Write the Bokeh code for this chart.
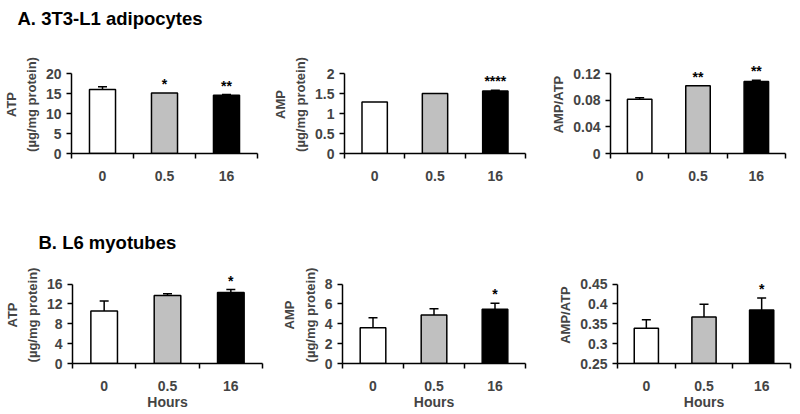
from bokeh.plotting import figure
from bokeh.models import (FixedTicker, Whisker, TeeHead, ColumnDataSource, Range1d,
                          LabelSet, Title)
from bokeh.layouts import column, row
from bokeh.core.properties import value
from bokeh.embed import file_html
from bokeh.resources import INLINE

FONT = "Liberation Sans"

# ---- data ----
hours = ["0", "0.5", "16"]
fills = ["white", "#c0c0c0", "black"]

a_atp = [16.0, 15.15, 14.55]
a_atp_err = [0.7, 0.0, 0.2]
a_atp_sig = ["", "*", "**"]
a_atp_ticks = [0, 5, 10, 15, 20]
a_atp_labels = ["0", "5", "10", "15", "20"]

a_amp = [1.29, 1.50, 1.56]
a_amp_err = [0.0, 0.0, 0.02]
a_amp_sig = ["", "", "****"]
a_amp_ticks = [0, 0.5, 1, 1.5, 2]
a_amp_labels = ["0", "0.5", "1", "1.5", "2"]

a_ratio = [0.0815, 0.1015, 0.108]
a_ratio_err = [0.002, 0.0, 0.002]
a_ratio_sig = ["", "**", "**"]
a_ratio_ticks = [0, 0.04, 0.08, 0.12]
a_ratio_labels = ["0", "0.04", "0.08", "0.12"]

b_atp = [10.6, 13.7, 14.3]
b_atp_err = [2.0, 0.35, 0.6]
b_atp_sig = ["", "", "*"]
b_atp_ticks = [0, 4, 8, 12, 16]
b_atp_labels = ["0", "4", "8", "12", "16"]

b_amp = [3.6, 4.9, 5.46]
b_amp_err = [1.0, 0.63, 0.62]
b_amp_sig = ["", "", "*"]
b_amp_ticks = [0, 2, 4, 6, 8]
b_amp_labels = ["0", "2", "4", "6", "8"]

b_ratio = [0.339, 0.367, 0.385]
b_ratio_err = [0.021, 0.032, 0.03]
b_ratio_sig = ["", "", "*"]
b_ratio_ticks = [0.25, 0.3, 0.35, 0.4, 0.45]
b_ratio_labels = ["0.25", "0.3", "0.35", "0.4", "0.45"]

HEAD = 18  # px of free space above the top tick (for significance stars)


def panel(vals, errs, sigs, yticks, ylabels, ylab, w, h, left, right, top, bottom,
          title=None, title_dx=0, title_gap=0, xlab=None):
    ylo, yhi = yticks[0], yticks[-1]
    frame_h = h - top - bottom
    extra = (yhi - ylo) * HEAD / frame_h
    p = figure(width=w, height=h, output_backend="svg", toolbar_location=None,
               x_range=Range1d(0, len(hours)), y_range=Range1d(ylo, yhi + extra),
               min_border_left=left, min_border_right=right,
               min_border_top=top - HEAD, min_border_bottom=bottom)
    p.outline_line_color = None
    p.xgrid.visible = False
    p.ygrid.visible = False
    p.background_fill_color = "white"
    p.border_fill_color = "white"

    xs = [i + 0.5 for i in range(len(hours))]
    tops = [v + e for v, e in zip(vals, errs)]
    src = ColumnDataSource(dict(x=xs, top=vals, fill=fills, err=errs, etop=tops, sig=sigs))
    p.vbar(x="x", top="top", bottom=ylo, width=0.42, fill_color="fill",
           line_color="black", line_width=1.5, source=src)

    ex = [x for x, e in zip(xs, errs) if e > 0]
    ev = [v for v, e in zip(vals, errs) if e > 0]
    et = [t for t, e in zip(tops, errs) if e > 0]
    esrc = ColumnDataSource(dict(x=ex, lo=ev, hi=et))
    p.add_layout(Whisker(source=esrc, base="x", lower="lo", upper="hi",
                         line_color="black", line_width=1.5,
                         upper_head=TeeHead(size=9, line_width=1.5, line_color="black"),
                         lower_head=None))

    p.add_layout(LabelSet(x="x", y="etop", text="sig", source=src,
                          text_font=value(FONT), text_font_style="bold",
                          text_font_size="14px", text_align="center",
                          text_baseline="bottom", y_offset=1, text_color="black"))

    # axes
    xa = p.xaxis[0]
    xa.ticker = FixedTicker(ticks=xs, minor_ticks=list(range(len(hours) + 1)))
    xa.major_label_overrides = {x: hh for x, hh in zip(xs, hours)}
    xa.major_tick_out = 0
    xa.major_tick_in = 0
    xa.minor_tick_out = 5
    xa.minor_tick_in = 0
    xa.minor_tick_line_width = 1.5
    xa.axis_line_width = 1.5
    xa.major_label_text_font = FONT
    xa.major_label_text_font_style = "bold"
    xa.major_label_text_font_size = "14px"
    xa.major_label_standoff = 12
    if xlab:
        xa.axis_label = xlab
        xa.axis_label_text_font = FONT
        xa.axis_label_text_font_style = "bold"
        xa.axis_label_text_font_size = "14px"
        xa.axis_label_standoff = 0

    ya = p.yaxis[0]
    ya.ticker = FixedTicker(ticks=yticks, minor_ticks=[])
    ya.bounds = (ylo, yhi)
    ya.major_label_overrides = {t: l for t, l in zip(yticks, ylabels)}
    ya.major_tick_out = 5
    ya.major_tick_in = 0
    ya.major_tick_line_width = 1.5
    ya.axis_line_width = 1.5
    ya.major_label_text_font = FONT
    ya.major_label_text_font_style = "bold"
    ya.major_label_text_font_size = "14px"
    ya.major_label_standoff = 5
    ya.axis_label = ylab
    ya.axis_label_text_font = FONT
    ya.axis_label_text_font_style = "bold"
    ya.axis_label_text_font_size = "13px"
    ya.axis_label_text_line_height = 1.35
    ya.axis_label_standoff = 4

    if title:
        # spacer (closest to the frame) then the panel heading above it
        p.add_layout(Title(text=" ", text_font_size="1px", standoff=title_gap), "above")
        p.add_layout(Title(text=title, text_font=FONT, text_font_style="bold",
                           text_font_size="18.5px", align="left", offset=title_dx,
                           standoff=0, text_color="black"), "above")
    return p


UNIT = "\n(\u00b5g/mg protein)"

H1, T1, B1 = 225, 73, 72
H2, T2, B2 = 187, 59, 47

p1 = panel(a_atp, a_atp_err, a_atp_sig, a_atp_ticks, a_atp_labels, "ATP" + UNIT,
           269, H1, 70, 12, T1, B1, title="A. 3T3-L1 adipocytes", title_dx=-54,
           title_gap=24)
p2 = panel(a_amp, a_amp_err, a_amp_sig, a_amp_ticks, a_amp_labels, "AMP" + UNIT,
           274, H1, 71, 18, T1, B1)
p3 = panel(a_ratio, a_ratio_err, a_ratio_sig, a_ratio_ticks, a_ratio_labels, "AMP/ATP",
           249, H1, 67, 7, T1, B1)

p4 = panel(b_atp, b_atp_err, b_atp_sig, b_atp_ticks, b_atp_labels, "ATP" + UNIT,
           274, H2, 72, 12, T2, B2, title="B. L6 myotubes", title_dx=-34,
           title_gap=11, xlab="Hours")
p5 = panel(b_amp, b_amp_err, b_amp_sig, b_amp_ticks, b_amp_labels, "AMP" + UNIT,
           281, H2, 68, 30, T2, B2, xlab="Hours")
p6 = panel(b_ratio, b_ratio_err, b_ratio_sig, b_ratio_ticks, b_ratio_labels, "AMP/ATP",
           237, H2, 61, 2, T2, B2, xlab="Hours")

layout = column(row(p1, p2, p3), row(p4, p5, p6))

open("out.html", "w").write(file_html(layout, INLINE))
